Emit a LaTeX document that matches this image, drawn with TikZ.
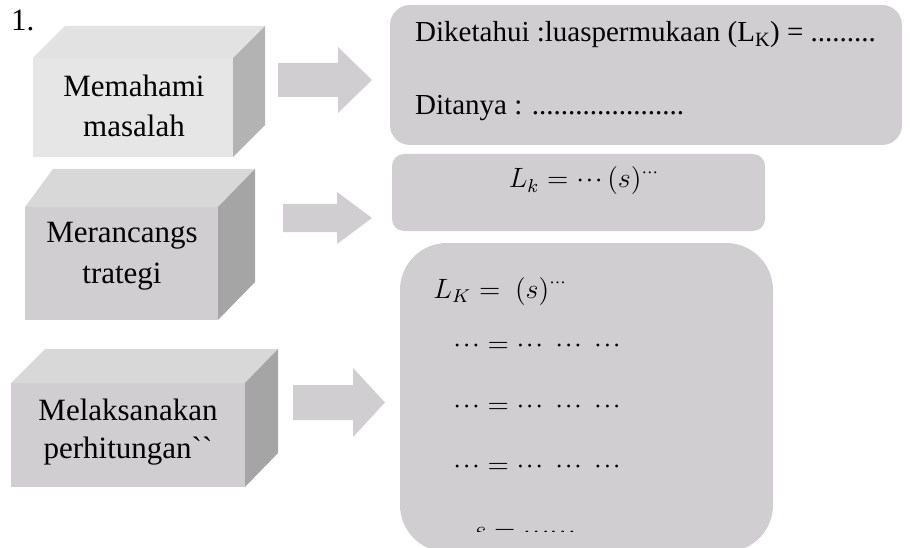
\documentclass[tikz,border=0pt]{standalone}
\usepackage{fontspec}
\setmainfont{Liberation Serif}
\newfontfamily\rawserif{Liberation Serif}[Ligatures=TeXOff]
\definecolor{cAfront}{HTML}{E6E6E6}
\definecolor{cAtop}{HTML}{E2E2E2}
\definecolor{cAside}{HTML}{B3B3B3}
\definecolor{cBfront}{HTML}{D0CED0}
\definecolor{cBtop}{HTML}{D9D8D9}
\definecolor{cBside}{HTML}{A6A5A6}
\definecolor{panelgray}{HTML}{D0CED0}
\newcommand{\dd}{{\cdotp\mkern-2mu\cdotp\mkern-2mu\cdotp}}
\begin{document}
\begin{tikzpicture}[x=1pt,y=-1pt,
  face/.style={rectangle, draw=none, inner sep=0pt, outer sep=0pt},
  cubetext/.style={font=\fontsize{31}{37}\selectfont, anchor=base, inner sep=0pt},
  boxtext/.style={font=\fontsize{29}{35}\selectfont, anchor=base west, inner sep=0pt},
  mathtext/.style={font=\fontsize{12}{14}\selectfont, scale=2.33, inner sep=0pt},
  panel/.style={rectangle, fill=panelgray, draw=none, inner sep=0pt, outer sep=0pt},
  blockarrow/.style={fill=panelgray, draw=none}]
\useasboundingbox (0,0) rectangle (910,548);
\clip (0,0) rectangle (910,548);

% number
\node[cubetext, anchor=base west] (num) at (11,31) {1.};

% cube 1
\node[face, fill=cAfront, minimum width=200pt, minimum height=99pt] (f1) at (133,107.5) {};
\fill[cAtop] (f1.north west) -- (65,26) -- (265,26) -- (f1.north east) -- cycle;
\fill[cAside] (f1.north east) -- (265,26) -- (265,125) -- (f1.south east) -- cycle;
\node[cubetext] (t1a) at (134,97) {Memahami};
\node[cubetext] (t1b) at (134,137) {masalah};

% cube 2
\node[face, fill=cBfront, minimum width=193pt, minimum height=113pt] (f2) at (121.5,263.5) {};
\fill[cBtop] (f2.north west) -- (53,169) -- (255,169) -- (f2.north east) -- cycle;
\fill[cBside] (f2.north east) -- (255,169) -- (255,282) -- (f2.south east) -- cycle;
\node[cubetext] (t2a) at (122,243) {Merancangs};
\node[cubetext] (t2b) at (122,283) {trategi};

% cube 3
\node[face, fill=cBfront, minimum width=234pt, minimum height=104pt] (f3) at (128,435) {};
\fill[cBtop] (f3.north west) -- (45,349) -- (278,349) -- (f3.north east) -- cycle;
\fill[cBside] (f3.north east) -- (278,349) -- (278,453) -- (f3.south east) -- cycle;
\node[cubetext] (t3a) at (128,420) {Melaksanakan};
\node[cubetext] (t3b) at (128,458) {perhitungan{\rawserif ``}};

% block arrows
\fill[blockarrow] (278,63) -- (338,63) -- (338,47) -- (372,80) -- (338,113) -- (338,97) -- (278,97) -- cycle;
\fill[blockarrow] (283,204) -- (337,204) -- (337,192) -- (372,218) -- (337,244) -- (337,232) -- (283,232) -- cycle;
\fill[blockarrow] (293,385) -- (353,385) -- (353,368) -- (385,402.5) -- (353,437) -- (353,420) -- (293,420) -- cycle;

% panels
\node[panel, rounded corners=20pt, minimum width=512pt, minimum height=140pt] (p1) at (646,75) {};
\node[panel, rounded corners=12pt, minimum width=373pt, minimum height=77pt] (p2) at (578.5,192.5) {};
\node[panel, rounded corners=47pt, minimum width=373pt, minimum height=309pt] (p3) at (586.5,397.5) {};

% panel 1 text
\node[boxtext] (k1) at (415,42) {Diketahui :luaspermukaan (L\textsubscript{K}) = .........};
\node[boxtext] (k2) at (415,115) {Ditanya : .....................};

% panel 2 text
\node[mathtext, anchor=base] (m0) at (584,188) {$L_k = \dd\,(s)^{\cdots}$};

% panel 3 text
\node[mathtext, anchor=base west] (m1) at (433,298) {$L_K =\ (s)^{\cdots}$};
\node[mathtext, anchor=base west] (m2) at (453,352) {$\dd = \dd\;\,\dd\;\,\dd$};
\node[mathtext, anchor=base west] (m3) at (453,413) {$\dd = \dd\;\,\dd\;\,\dd$};
\node[mathtext, anchor=base west] (m4) at (453,473) {$\dd = \dd\;\,\dd\;\,\dd$};
\begin{scope}
\clip (400,243) rectangle (773,531);
\node[mathtext, anchor=base west] (m5) at (473,539) {$s = \dd\dd$};
\end{scope}
\end{tikzpicture}
\end{document}
